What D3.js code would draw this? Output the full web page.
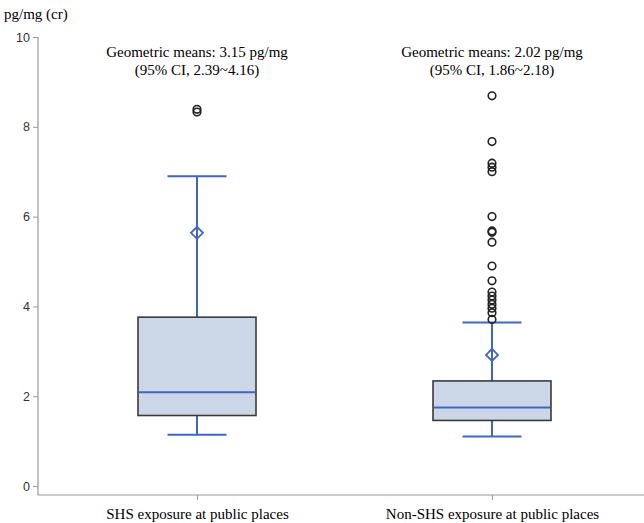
<!DOCTYPE html>
<html><head><meta charset="utf-8">
<script src="https://cdn.jsdelivr.net/npm/d3@7"></script>
<style>body{margin:0;background:#fff}svg{display:block}</style>
</head><body><svg id="c" width="644" height="523"></svg>
<script>
const categories = ["SHS exposure at public places", "Non-SHS exposure at public places"];
const q1 = [1.57, 1.46];
const medians = [2.09, 1.75];
const q3 = [3.76, 2.34];
const whiskerLow = [1.14, 1.10];
const whiskerHigh = [6.90, 3.64];
const means = [5.64, 2.92];
const outliers = [
  [8.33, 8.39],
  [8.69, 7.67, 7.19, 7.10, 7.00, 6.00, 5.65, 5.68, 5.43, 4.90, 4.57, 4.32, 4.23, 4.14, 4.05, 3.96, 3.86, 3.71]
];
const geoLine1 = ["Geometric means: 3.15 pg/mg", "Geometric means: 2.02 pg/mg"];
const geoLine2 = ["(95% CI, 2.39~4.16)", "(95% CI, 1.86~2.18)"];
const yTicks = [0, 2, 4, 6, 8, 10];

const svg = d3.select("#c");
const x = d3.scalePoint().domain(categories).range([197, 492]);
const y = d3.scaleLinear().domain([0, 10]).range([486, 37]);
const axisX = 38, axisBottom = 495;
const blue = "#4066c2", fill = "#cbd6e6";

// y axis
const yAxis = svg.append("g").attr("transform", `translate(${axisX},0)`)
  .call(d3.axisLeft(y).tickValues(yTicks).tickSize(5).tickPadding(3));
yAxis.select(".domain").remove();
yAxis.selectAll(".tick line").attr("stroke", "#999");
yAxis.selectAll(".tick text").attr("fill", "#333").style("font-family", "Liberation Sans, Arial, sans-serif").style("font-size", "12.5px");
svg.append("line").attr("x1", axisX).attr("x2", axisX).attr("y1", y(10)).attr("y2", axisBottom).attr("stroke", "#999").attr("stroke-width", 1.2);

// x axis
const xAxis = svg.append("g").attr("transform", `translate(0,${axisBottom})`)
  .call(d3.axisBottom(x).tickSize(5).tickPadding(8));
xAxis.select(".domain").remove();
xAxis.selectAll(".tick line").attr("stroke", "#999");
xAxis.selectAll(".tick text").attr("fill", "#000").style("font-family", "Liberation Serif, Times New Roman, serif").style("font-size", "15px");
svg.append("line").attr("x1", axisX).attr("x2", 644).attr("y1", axisBottom).attr("y2", axisBottom).attr("stroke", "#999").attr("stroke-width", 1.2);

// y label
svg.append("text").attr("x", 4).attr("y", 19).text("pg/mg (cr)")
  .style("font-family", "Liberation Serif, Times New Roman, serif").style("font-size", "15px").attr("fill", "#000");

const boxW = 118, capW = 59;
categories.forEach((c, i) => {
  const cx = x(c);
  const g = svg.append("g");
  // whiskers
  g.append("line").attr("x1", cx).attr("x2", cx).attr("y1", y(q3[i])).attr("y2", y(whiskerHigh[i])).attr("stroke", blue).attr("stroke-width", 2);
  g.append("line").attr("x1", cx).attr("x2", cx).attr("y1", y(q1[i])).attr("y2", y(whiskerLow[i])).attr("stroke", blue).attr("stroke-width", 2);
  [whiskerHigh[i], whiskerLow[i]].forEach(v => {
    g.append("line").attr("x1", cx - capW / 2).attr("x2", cx + capW / 2).attr("y1", y(v)).attr("y2", y(v)).attr("stroke", blue).attr("stroke-width", 2);
  });
  // box
  g.append("rect").attr("x", cx - boxW / 2).attr("width", boxW).attr("y", y(q3[i])).attr("height", y(q1[i]) - y(q3[i]))
    .attr("fill", fill).attr("stroke", "#3a3a3a").attr("stroke-width", 1.6);
  g.append("line").attr("x1", cx - boxW / 2 + 1).attr("x2", cx + boxW / 2 - 1).attr("y1", y(medians[i])).attr("y2", y(medians[i])).attr("stroke", blue).attr("stroke-width", 2);
  // mean diamond
  const my = y(means[i]);
  g.append("path").attr("d", `M${cx},${my - 6}L${cx + 6},${my}L${cx},${my + 6}L${cx - 6},${my}Z`)
    .attr("fill", "none").attr("stroke", blue).attr("stroke-width", 1.8);
  // outliers
  g.selectAll("circle.o").data(outliers[i]).join("circle").attr("class", "o")
    .attr("cx", cx).attr("cy", d => y(d)).attr("r", 3.8)
    .attr("fill", "none").attr("stroke", "#222").attr("stroke-width", 1.6);
  // annotations
  const t = g.append("text").attr("text-anchor", "middle")
    .style("font-family", "Liberation Serif, Times New Roman, serif").style("font-size", "15px").attr("fill", "#000");
  t.append("tspan").attr("x", cx).attr("y", 57).text(geoLine1[i]);
  t.append("tspan").attr("x", cx).attr("y", 75).text(geoLine2[i]);
});
</script>
</body></html>
